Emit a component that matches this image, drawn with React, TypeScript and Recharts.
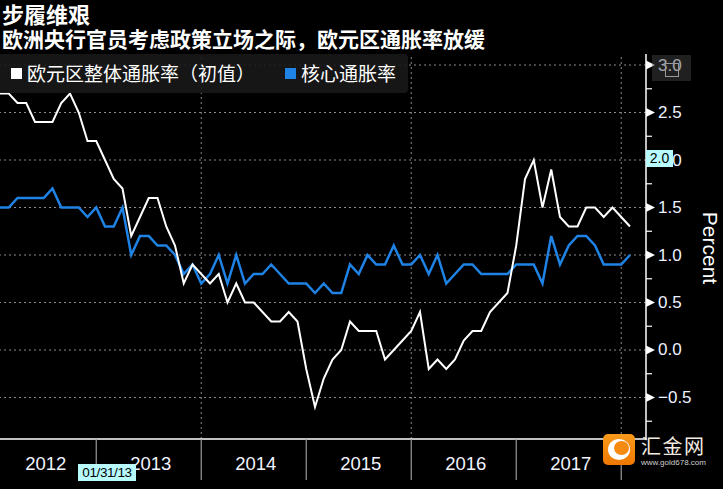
import React from "react";
import {
  LineChart,
  Line,
  XAxis,
  YAxis,
  ReferenceLine,
} from "recharts";

// 月度数据：2012年1月 - 2018年1月（月末）
const headline = [
  2.7, 2.7, 2.6, 2.6, 2.4, 2.4, 2.4, 2.6, 2.7, 2.5, 2.2, 2.2,
  2.0, 1.8, 1.7, 1.2, 1.4, 1.6, 1.6, 1.3, 1.1, 0.7, 0.9, 0.8,
  0.7, 0.8, 0.5, 0.7, 0.5, 0.5, 0.4, 0.3, 0.3, 0.4, 0.3, -0.2,
  -0.6, -0.3, -0.1, 0.0, 0.3, 0.2, 0.2, 0.2, -0.1, 0.0, 0.1, 0.2,
  0.4, -0.2, -0.1, -0.2, -0.1, 0.1, 0.2, 0.2, 0.4, 0.5, 0.6, 1.1,
  1.8, 2.0, 1.5, 1.9, 1.4, 1.3, 1.3, 1.5, 1.5, 1.4, 1.5, 1.4,
  1.3,
];
const core = [
  1.5, 1.5, 1.6, 1.6, 1.6, 1.6, 1.7, 1.5, 1.5, 1.5, 1.4, 1.5,
  1.3, 1.3, 1.5, 1.0, 1.2, 1.2, 1.1, 1.1, 1.0, 0.8, 0.9, 0.7,
  0.8, 1.0, 0.7, 1.0, 0.7, 0.8, 0.8, 0.9, 0.8, 0.7, 0.7, 0.7,
  0.6, 0.7, 0.6, 0.6, 0.9, 0.8, 1.0, 0.9, 0.9, 1.1, 0.9, 0.9,
  1.0, 0.8, 1.0, 0.7, 0.8, 0.9, 0.9, 0.8, 0.8, 0.8, 0.8, 0.9,
  0.9, 0.9, 0.7, 1.2, 0.9, 1.1, 1.2, 1.2, 1.1, 0.9, 0.9, 0.9,
  1.0,
];
const years = ["2012", "2013", "2014", "2015", "2016", "2017"];
const yearEnds = [12, 24, 36, 48, 60, 72];
const gridYears = [24, 48, 72];
const majorTicks = [-0.5, 0, 0.5, 1.0, 1.5, 2.0, 2.5, 3.0];
const minorTicks = [-0.75, -0.25, 0.25, 0.75, 1.25, 1.75, 2.25, 2.75];

const W = 723;
const H = 489;
const PLOT_TOP = 54;
const AXIS_W = 77;
const X_AXIS_H = 50;
const X_MIN = 1;
const X_MAX = 74.83;
const Y_MIN = -0.937;
const Y_MAX = 3.116;

const data = headline.map((v, i) => ({ t: i + 1, headline: v, core: core[i] }));

const halfYearPx = (6 * (W - AXIS_W)) / (X_MAX - X_MIN);

const sans = '"Liberation Sans", Arial, sans-serif';
const cjk = '"Noto Sans CJK SC", "Noto Sans", sans-serif';

const XTick = ({ x, y, payload }: any) => {
  const idx = yearEnds.indexOf(payload.value);
  return (
    <g>
      <line x1={x} y1={y} x2={x} y2={y + 41} stroke="#9a9a9a" strokeWidth={1.2} />
      <text
        x={x - halfYearPx + 2}
        y={y + 24}
        textAnchor="middle"
        dominantBaseline="central"
        fill="#f2f4ff"
        fontSize={18.5}
        fontFamily={sans}
      >
        {years[idx]}
      </text>
    </g>
  );
};

const YTick = ({ x, y, payload }: any) => {
  const v = payload.value;
  if (!majorTicks.includes(v)) {
    return <line x1={x} y1={y} x2={x + 6} y2={y} stroke="#ffffff" strokeWidth={1.2} />;
  }
  const label = v < 0 ? "\u2212" + Math.abs(v).toFixed(1) : v.toFixed(1);
  return (
    <g>
      <path d={`M${x} ${y - 4.5} L${x + 9} ${y} L${x} ${y + 4.5} Z`} fill="#ffffff" />
      <text
        x={x + 12}
        y={y}
        textAnchor="start"
        dominantBaseline="central"
        fill="#eef2ff"
        fontSize={17}
        fontFamily={sans}
      >
        {label}
      </text>
    </g>
  );
};

export default function App() {
  return (
    <div
      style={{
        position: "absolute",
        left: 0,
        top: 0,
        width: W,
        height: H,
        background: "#000",
        overflow: "hidden",
      }}
    >
      <LineChart
        width={W}
        height={H}
        data={data}
        margin={{ top: PLOT_TOP, right: 0, left: 0, bottom: 0 }}
      >
        {majorTicks.map((v) => (
          <ReferenceLine key={"h" + v} y={v} stroke="#8a8a8a" strokeDasharray="2 3" />
        ))}
        {gridYears.map((t) => (
          <ReferenceLine key={"v" + t} x={t} stroke="#8a8a8a" strokeDasharray="2 3" />
        ))}
        <XAxis
          dataKey="t"
          type="number"
          domain={[X_MIN, X_MAX]}
          allowDataOverflow
          ticks={yearEnds}
          interval={0}
          height={X_AXIS_H}
          tickSize={0}
          tickMargin={0}
          tickLine={false}
          axisLine={{ stroke: "#ffffff", strokeWidth: 1.5 }}
          tick={<XTick />}
        />
        <YAxis
          orientation="right"
          type="number"
          domain={[Y_MIN, Y_MAX]}
          allowDataOverflow
          ticks={[...majorTicks, ...minorTicks].sort((a, b) => a - b)}
          interval={0}
          width={AXIS_W}
          tickSize={0}
          tickMargin={0}
          tickLine={false}
          axisLine={{ stroke: "#ffffff", strokeWidth: 1.5 }}
          tick={<YTick />}
        />
        <Line
          dataKey="core"
          stroke="#1f83e6"
          strokeWidth={2.5}
          dot={false}
          type="linear"
          isAnimationActive={false}
        />
        <Line
          dataKey="headline"
          stroke="#ffffff"
          strokeWidth={2}
          dot={false}
          type="linear"
          isAnimationActive={false}
        />
      </LineChart>

      {/* 标题 */}
      <div
        style={{
          position: "absolute",
          left: 2,
          top: 2,
          color: "#fff",
          fontFamily: cjk,
          fontWeight: 700,
          fontSize: 22,
          lineHeight: "23px",
          whiteSpace: "nowrap",
        }}
      >
        步履维艰
      </div>
      <div
        style={{
          position: "absolute",
          left: 2,
          top: 27,
          color: "#fff",
          fontFamily: cjk,
          fontWeight: 700,
          fontSize: 21,
          lineHeight: "22px",
          whiteSpace: "nowrap",
        }}
      >
        欧洲央行官员考虑政策立场之际，欧元区通胀率放缓
      </div>

      {/* 图例 */}
      <div
        style={{
          position: "absolute",
          left: 0,
          top: 54,
          width: 408,
          height: 39,
          background: "rgba(24,24,24,0.9)",
          borderRadius: "0 4px 4px 0",
          fontFamily: cjk,
          fontSize: 19,
          color: "#fff",
          whiteSpace: "nowrap",
        }}
      >
        <div style={{ position: "absolute", left: 11, top: 14, width: 11, height: 11, background: "#fff" }} />
        <div style={{ position: "absolute", left: 27, top: 6, lineHeight: "26px" }}>
          欧元区整体通胀率（初值）
        </div>
        <div style={{ position: "absolute", left: 285, top: 14, width: 11, height: 11, background: "#1f83e6" }} />
        <div style={{ position: "absolute", left: 301, top: 6, lineHeight: "26px" }}>核心通胀率</div>
      </div>

      {/* 3.0 标签上的灰框 */}
      <div
        style={{
          position: "absolute",
          left: 652,
          top: 55,
          width: 39,
          height: 26,
          background: "rgba(70,70,70,0.45)",
        }}
      >
        <div
          style={{
            position: "absolute",
            left: 13,
            top: 8,
            width: 12,
            height: 12,
            border: "1px solid #999",
          }}
        />
      </div>

      {/* 当前值标签 */}
      <div
        style={{
          position: "absolute",
          left: 646,
          top: 150,
          width: 27,
          height: 17,
          background: "#b8fbff",
          color: "#000",
          fontFamily: sans,
          fontSize: 14,
          lineHeight: "17px",
          textAlign: "center",
        }}
      >
        2.0
      </div>
      <div
        style={{
          position: "absolute",
          left: 78,
          top: 464,
          width: 58,
          height: 17,
          background: "#b8fbff",
          color: "#000",
          fontFamily: sans,
          fontSize: 13.5,
          lineHeight: "18px",
          textAlign: "center",
          letterSpacing: -0.4,
        }}
      >
        01/31/13
      </div>

      {/* Percent */}
      <div
        style={{
          position: "absolute",
          left: 710,
          top: 248,
          transform: "translate(-50%, -50%) rotate(90deg)",
          color: "#fff",
          fontFamily: sans,
          fontSize: 21,
          whiteSpace: "nowrap",
        }}
      >
        Percent
      </div>

      {/* 水印 */}
      <div
        style={{
          position: "absolute",
          left: 603,
          top: 434,
          width: 32,
          height: 31,
          borderRadius: 5,
          background: "linear-gradient(#f99a1c, #f07800)",
        }}
      >
        <div
          style={{
            position: "absolute",
            left: 5,
            top: 5,
            width: 22,
            height: 21,
            borderRadius: "50%",
            background: "#fff",
          }}
        />
        <div
          style={{
            position: "absolute",
            left: 11,
            top: 7,
            width: 15,
            height: 14,
            borderRadius: "50%",
            background: "#f58a10",
          }}
        />
      </div>
      <div
        style={{
          position: "absolute",
          left: 641,
          top: 435,
          color: "#f3ebe0",
          fontFamily: cjk,
          fontSize: 20,
          lineHeight: "21px",
          letterSpacing: 1.5,
          whiteSpace: "nowrap",
        }}
      >
        汇金网
      </div>
      <div
        style={{
          position: "absolute",
          left: 641,
          top: 459,
          color: "#cfcfcf",
          fontFamily: sans,
          fontSize: 8,
          lineHeight: "8px",
          whiteSpace: "nowrap",
        }}
      >
        www.gold678.com
      </div>
    </div>
  );
}
